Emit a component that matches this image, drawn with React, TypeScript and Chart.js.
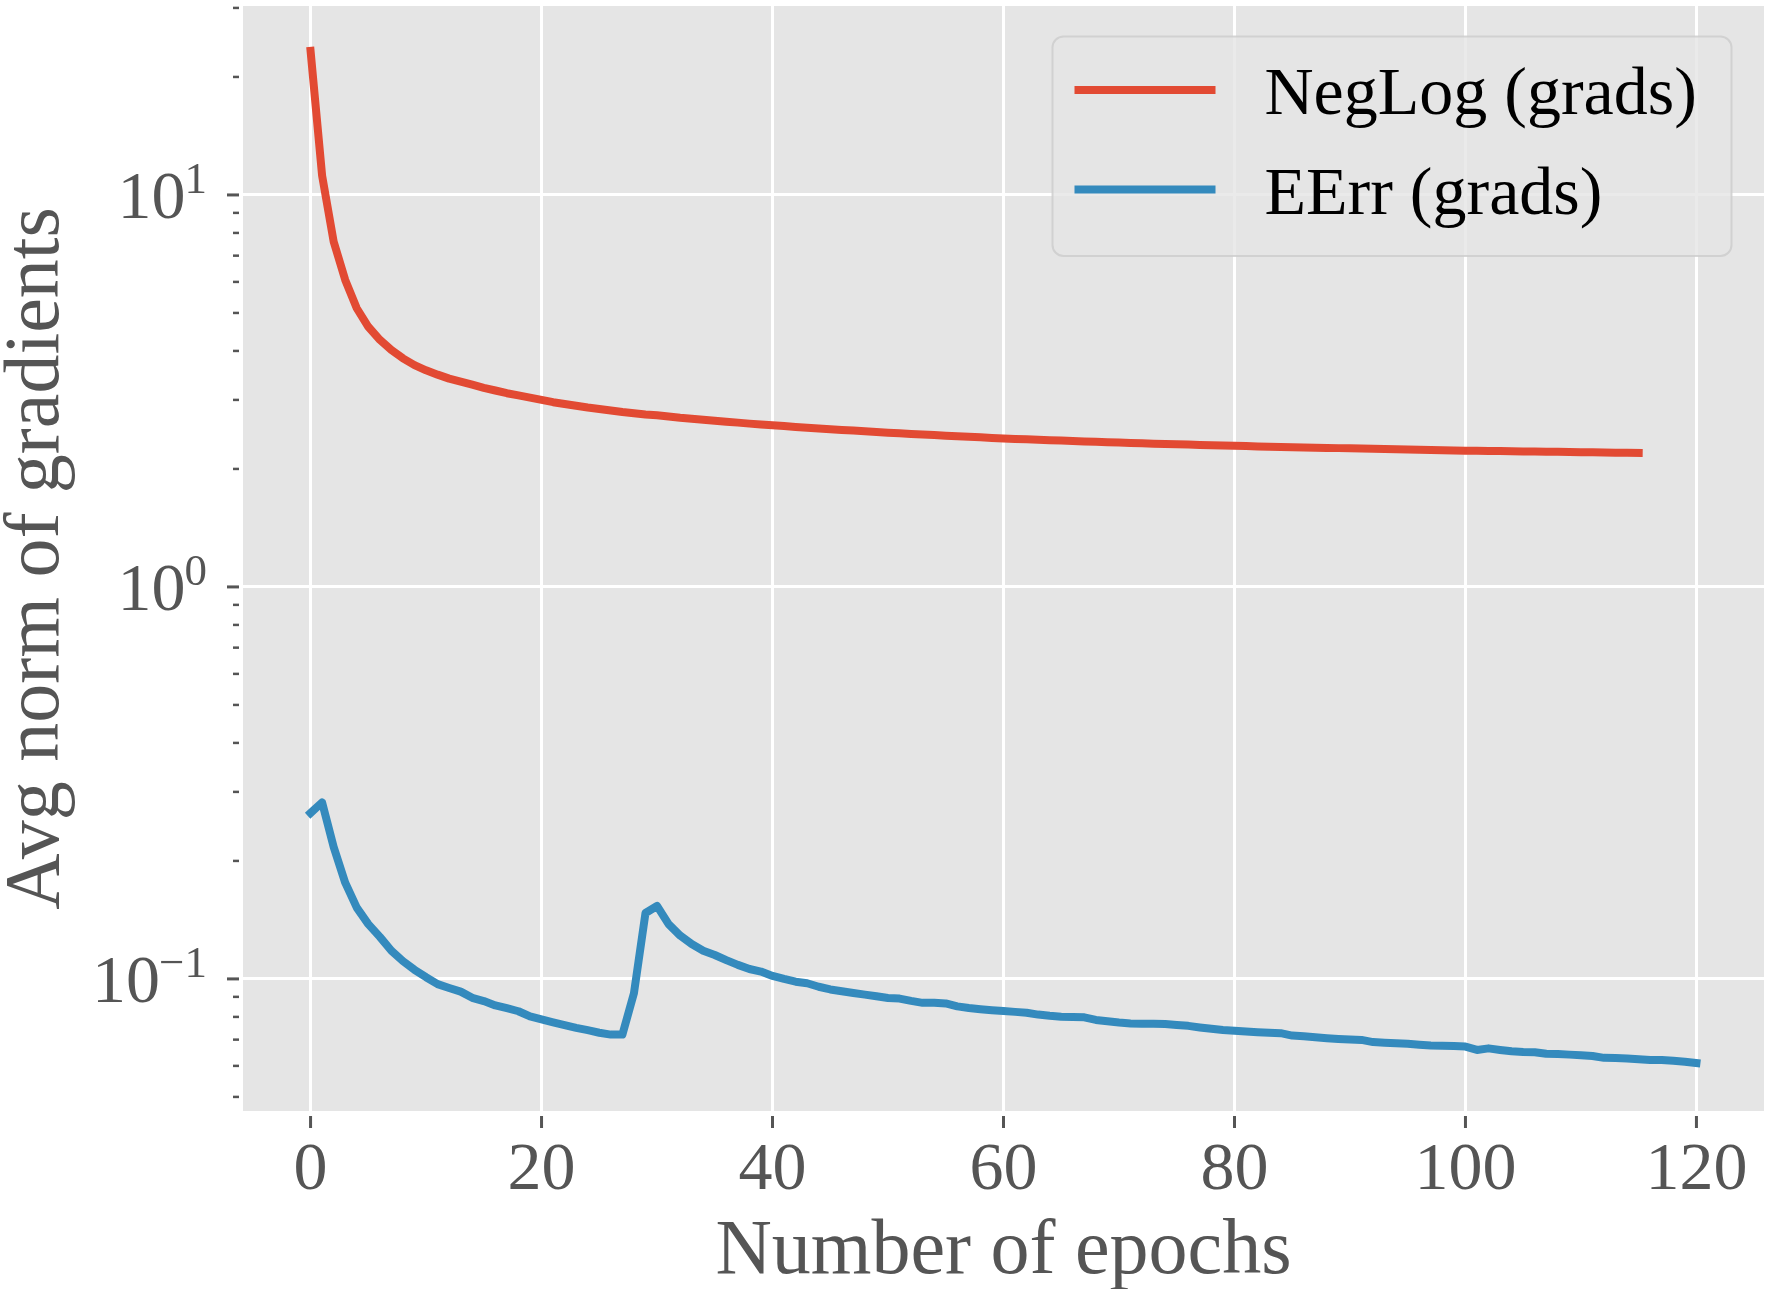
import { useEffect, useRef } from "react";
import { Chart, registerables } from "chart.js";

Chart.register(...registerables);

// Average gradient norm per epoch for the two losses.
const negLogGrads = [
  23.3, 11.2, 7.6, 6.07, 5.14, 4.61, 4.27, 4.02, 3.83, 3.68,
  3.57, 3.48, 3.4, 3.34, 3.28, 3.22, 3.17, 3.12, 3.08, 3.04,
  3.0, 2.96, 2.93, 2.9, 2.87, 2.845, 2.82, 2.795, 2.775, 2.755,
  2.74, 2.72, 2.7, 2.685, 2.67, 2.655, 2.64, 2.625, 2.61, 2.597,
  2.585, 2.572, 2.56, 2.548, 2.537, 2.526, 2.515, 2.505, 2.495, 2.485,
  2.475, 2.466, 2.457, 2.448, 2.44, 2.432, 2.424, 2.416, 2.408, 2.4,
  2.392, 2.386, 2.38, 2.374, 2.368, 2.362, 2.356, 2.35, 2.345, 2.34,
  2.335, 2.33, 2.325, 2.32, 2.315, 2.311, 2.307, 2.303, 2.299, 2.295,
  2.291, 2.287, 2.283, 2.279, 2.275, 2.272, 2.269, 2.266, 2.263, 2.26,
  2.257, 2.254, 2.251, 2.248, 2.245, 2.242, 2.239, 2.236, 2.233, 2.23,
  2.227, 2.225, 2.223, 2.221, 2.219, 2.217, 2.215, 2.213, 2.211, 2.209,
  2.207, 2.205, 2.203, 2.201, 2.199, 2.197,
];

const eErrGrads = [
  0.265, 0.282, 0.217, 0.176, 0.152, 0.138, 0.128, 0.118, 0.111, 0.1055,
  0.101, 0.097, 0.0948, 0.0928, 0.0895, 0.0878, 0.0856, 0.0842, 0.0827, 0.0802,
  0.0788, 0.0775, 0.0762, 0.075, 0.074, 0.0729, 0.0721, 0.0721, 0.0919, 0.1473,
  0.1535, 0.138, 0.129, 0.1227, 0.118, 0.1151, 0.1117, 0.1086, 0.106, 0.1044,
  0.1018, 0.1, 0.0984, 0.0975, 0.0955, 0.094, 0.093, 0.0921, 0.0912, 0.0903,
  0.0894, 0.0891, 0.0879, 0.0869, 0.0869, 0.0866, 0.0851, 0.0843, 0.0837, 0.0832,
  0.0828, 0.0824, 0.082, 0.0811, 0.0805, 0.0801, 0.0799, 0.0798, 0.0786, 0.078,
  0.0774, 0.077, 0.0768, 0.0768, 0.0767, 0.0763, 0.0759, 0.0752, 0.0746, 0.0741,
  0.0738, 0.0734, 0.0731, 0.0729, 0.0727, 0.0717, 0.0714, 0.071, 0.0706, 0.0703,
  0.0701, 0.0699, 0.069, 0.0687, 0.0685, 0.0683, 0.0679, 0.0676, 0.0675, 0.0674,
  0.0672, 0.0659, 0.0665, 0.0659, 0.0654, 0.0651, 0.065, 0.0644, 0.0643, 0.0641,
  0.0639, 0.0636, 0.0629, 0.0628, 0.0627, 0.0624, 0.0621, 0.0621, 0.0618, 0.0615,
  0.061,
];

const seriesLabels = ["NegLog (grads)", "EErr (grads)"];
const seriesColors = ["#E24A33", "#348ABD"];

const xTickValues = [0, 20, 40, 60, 80, 100, 120];
const yMajorExponents = [-1, 0, 1];
const yMinorTicks = [
  0.05, 0.06, 0.07, 0.08, 0.09,
  0.2, 0.3, 0.4, 0.5, 0.6, 0.7, 0.8, 0.9,
  2, 3, 4, 5, 6, 7, 8, 9,
  20, 30,
];

const xTitle = "Number of epochs";
const yTitle = "Avg norm of gradients";

const SERIF = '"Liberation Serif", "DejaVu Serif", "Times New Roman", serif';
const AXIS_TEXT = "#555555";
const LINE_WIDTH = 8;

const toPoints = (values: number[]) => values.map((v, i) => ({ x: i, y: v }));

// Panel background, tick marks, tick labels, axis titles and legend box.
const decorPlugin = {
  id: "ggDecor",
  beforeDraw(chart: any) {
    const { ctx, chartArea: a } = chart;
    ctx.save();
    ctx.fillStyle = "#E5E5E5";
    ctx.fillRect(a.left, a.top, a.right - a.left, a.bottom - a.top);
    ctx.restore();
  },
  afterDraw(chart: any) {
    const { ctx, chartArea: a, scales } = chart;
    const xs = scales.x;
    const ys = scales.y;
    ctx.save();
    ctx.fillStyle = AXIS_TEXT;
    ctx.strokeStyle = AXIS_TEXT;
    ctx.lineCap = "butt";

    // x ticks + labels
    ctx.lineWidth = 3;
    ctx.font = `68px ${SERIF}`;
    ctx.textAlign = "center";
    ctx.textBaseline = "alphabetic";
    for (const v of xTickValues) {
      const px = xs.getPixelForValue(v);
      ctx.beginPath();
      ctx.moveTo(px, a.bottom + 5);
      ctx.lineTo(px, a.bottom + 17);
      ctx.stroke();
      ctx.fillText(String(v), px, a.bottom + 78);
    }

    // y minor ticks
    ctx.lineWidth = 2.5;
    for (const v of yMinorTicks) {
      const py = ys.getPixelForValue(v);
      ctx.beginPath();
      ctx.moveTo(a.left - 10, py);
      ctx.lineTo(a.left - 4, py);
      ctx.stroke();
    }

    // y major ticks + 10^k labels
    ctx.lineWidth = 3;
    for (const e of yMajorExponents) {
      const py = ys.getPixelForValue(Math.pow(10, e));
      ctx.beginPath();
      ctx.moveTo(a.left - 16, py);
      ctx.lineTo(a.left - 4, py);
      ctx.stroke();

      const sup = e < 0 ? "\u2212" + String(-e) : String(e);
      const supRight = a.left - 36;
      ctx.font = `45px ${SERIF}`;
      const supW = ctx.measureText(sup).width;
      ctx.textAlign = "left";
      ctx.fillText(sup, supRight - supW, py - 2);
      ctx.font = `68px ${SERIF}`;
      ctx.textAlign = "right";
      ctx.fillText("10", supRight - supW + 1, py + 23);
    }

    // axis titles
    ctx.font = `78px ${SERIF}`;
    ctx.textAlign = "center";
    ctx.textBaseline = "alphabetic";
    ctx.fillText(xTitle, (a.left + a.right) / 2, a.bottom + 162);
    ctx.save();
    ctx.translate(58, (a.top + a.bottom) / 2);
    ctx.rotate(-Math.PI / 2);
    ctx.fillText(yTitle, 0, 0);
    ctx.restore();

    // legend
    const lx = 1052.5;
    const ly = 36.5;
    const lw = 679;
    const lh = 219.5;
    ctx.beginPath();
    ctx.roundRect(lx, ly, lw, lh, 11);
    ctx.fillStyle = "rgba(229,229,229,0.8)";
    ctx.fill();
    ctx.lineWidth = 2;
    ctx.strokeStyle = "rgba(204,204,204,0.8)";
    ctx.stroke();

    ctx.font = `68px ${SERIF}`;
    ctx.textAlign = "left";
    ctx.fillStyle = "#000000";
    chart.data.datasets.forEach((ds: any, i: number) => {
      const baseline = ly + 77.5 + i * 99.5;
      ctx.strokeStyle = ds.borderColor;
      ctx.lineWidth = LINE_WIDTH;
      ctx.lineCap = "butt";
      ctx.beginPath();
      ctx.moveTo(lx + 22, baseline - 24);
      ctx.lineTo(lx + 163, baseline - 24);
      ctx.stroke();
      ctx.fillText(ds.label, lx + 212, baseline);
    });

    ctx.restore();
  },
};

export default function App() {
  const canvasRef = useRef<HTMLCanvasElement | null>(null);

  useEffect(() => {
    document.body.style.margin = "0";
    const canvas = canvasRef.current;
    if (!canvas) return;

    const lineStyle = {
      borderWidth: LINE_WIDTH,
      pointRadius: 0,
      tension: 0,
      fill: false,
      borderCapStyle: "square" as const,
      borderJoinStyle: "round" as const,
    };

    const chart = new Chart(canvas, {
      type: "line",
      data: {
        datasets: [
          { label: seriesLabels[0], data: toPoints(negLogGrads), borderColor: seriesColors[0], backgroundColor: seriesColors[0], ...lineStyle },
          { label: seriesLabels[1], data: toPoints(eErrGrads), borderColor: seriesColors[1], backgroundColor: seriesColors[1], ...lineStyle },
        ],
      },
      options: {
        responsive: false,
        animation: false,
        devicePixelRatio: 1,
        layout: { padding: { top: 6, right: 5, left: 0, bottom: 0 } },
        plugins: {
          legend: { display: false },
          tooltip: { enabled: false },
          title: { display: false },
        },
        scales: {
          x: {
            type: "linear",
            min: -5.85,
            max: 125.85,
            afterBuildTicks: (s: any) => {
              s.ticks = xTickValues.map((v) => ({ value: v }));
            },
            afterFit: (s: any) => {
              s.height = 178;
            },
            ticks: { display: false },
            grid: { color: "#FFFFFF", lineWidth: 3, drawTicks: false },
            border: { display: false },
          },
          y: {
            type: "logarithmic",
            min: 0.04603,
            max: 30.34,
            afterBuildTicks: (s: any) => {
              s.ticks = yMajorExponents.map((e) => ({ value: Math.pow(10, e), major: true }));
            },
            afterFit: (s: any) => {
              s.width = 243;
            },
            ticks: { display: false },
            grid: { color: "#FFFFFF", lineWidth: 3, drawTicks: false },
            border: { display: false },
          },
        },
      },
      plugins: [decorPlugin],
    });

    return () => chart.destroy();
  }, []);

  return (
    <div style={{ width: 1769, height: 1289, background: "#FFFFFF" }}>
      <canvas ref={canvasRef} width={1769} height={1289} style={{ display: "block" }} />
    </div>
  );
}
